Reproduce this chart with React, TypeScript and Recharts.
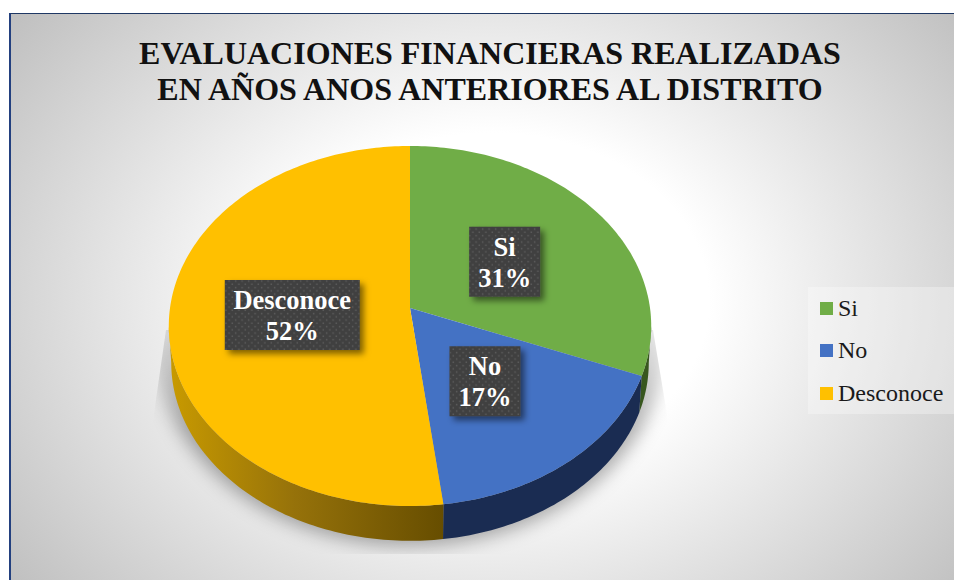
import { Legend, Pie, PieChart, Cell } from "recharts";

const categories = ["Si", "No", "Desconoce"];
const shares = [31, 17, 52];
const titleLines = ["EVALUACIONES FINANCIERAS REALIZADAS", "EN AÑOS ANOS ANTERIORES AL DISTRITO"];
const topColors = ["#70ad47", "#4472c4", "#ffc000"];
const sideColors = ["#38571f", "#1a2c52", "url(#yellowSide)"];

const rows = categories.map((name, i) => ({ name, value: shares[i] }));

const SERIF = '"Liberation Serif", "Times New Roman", serif';

// tilt of the disc: the plane is seen in perspective, so its centre sits above the ellipse centre
const TILT = 0.7425;
const PERSPECTIVE = 0.1;
const DEPTH = 37;
const FRONT_START = 95.7;
const FRONT_END = 264.3;

const project = (cx: number, cy: number, radius: number, clock: number, r = 1) => {
  const u = Math.sin((clock * Math.PI) / 180) * r;
  const v = -Math.cos((clock * Math.PI) / 180) * r;
  const w = 1 - PERSPECTIVE * v;
  return [cx + (radius * u) / w, cy + (radius * TILT * v) / w];
};

const arc = (cx: number, cy: number, radius: number, from: number, to: number, r = 1, dy = 0) => {
  const points: string[] = [];
  const steps = Math.max(2, Math.ceil(Math.abs(to - from)));
  for (let i = 0; i <= steps; i++) {
    const [x, y] = project(cx, cy, radius, from + ((to - from) * i) / steps, r);
    points.push(`${x.toFixed(2)} ${(y + dy).toFixed(2)}`);
  }
  return points;
};

const TopSector = (props: any) => {
  const { cx, cy, outerRadius, startAngle, endAngle, fill } = props;
  const d = `M${cx} ${cy} L${arc(cx, cy, outerRadius, 90 - startAngle, 90 - endAngle).join(" L")} Z`;
  return <path d={d} fill={fill} />;
};

const SideSector = (props: any) => {
  const { cx, cy, outerRadius, startAngle, endAngle, fill } = props;
  const from = Math.max(90 - startAngle, FRONT_START);
  const to = Math.min(90 - endAngle, FRONT_END);
  if (to <= from) return <g />;
  const upper = arc(cx, cy, outerRadius, from, to);
  const lower = arc(cx, cy, outerRadius, to, from, 0.99, DEPTH);
  return <path d={`M${upper.concat(lower).join(" L")} Z`} fill={fill} />;
};

const renderLabel = (props: any) => {
  const { cx, cy, outerRadius, midAngle, name, percent } = props;
  const [x, py] = project(cx, cy, outerRadius, 90 - midAngle, 0.49);
  const y = py + 1.5;
  const w = name.length > 4 ? 135 : 71;
  const h = 70;
  return (
    <g>
      <rect x={x - w / 2} y={y - h / 2} width={w} height={h} fill="#404040" filter="url(#boxShadow)" />
      <rect x={x - w / 2} y={y - h / 2} width={w} height={h} fill="url(#dots)" />
      <text
        x={x}
        y={y - 6}
        textAnchor="middle"
        fontFamily={SERIF}
        fontWeight="bold"
        fontSize={26.5}
        fill="#ffffff"
      >
        {name}
      </text>
      <text
        x={x}
        y={y + 25}
        textAnchor="middle"
        fontFamily={SERIF}
        fontWeight="bold"
        fontSize={26.5}
        fill="#ffffff"
      >
        {`${Math.round(percent * 100)}%`}
      </text>
    </g>
  );
};

const LegendBox = () => (
  <div style={{ width: 146, height: 127, background: "rgba(255,255,255,0.3)", position: "relative" }}>
    {categories.map((name, i) => (
      <div
        key={name}
        style={{
          position: "absolute",
          left: 12,
          top: 21 + i * 42.5 - 13,
          height: 26,
          display: "flex",
          alignItems: "center",
          fontFamily: SERIF,
          fontSize: 24,
          color: "#1a1a1a",
          whiteSpace: "nowrap",
        }}
      >
        <span style={{ width: 13, height: 13, background: topColors[i], marginRight: 5 }} />
        {name}
      </div>
    ))}
  </div>
);

export default function App() {
  return (
    <div style={{ position: "absolute", left: 0, top: 0, width: 954, height: 580, overflow: "hidden", background: "#fff" }}>
      <div
        style={{
          position: "absolute",
          left: 9,
          top: 13,
          width: 1000,
          height: 620,
          boxSizing: "border-box",
          borderLeft: "2.5px solid #23407f",
          borderTop: "1.5px solid #1f3864",
          background: "radial-gradient(ellipse 620px 480px at 481px 287px, #ffffff 35%, #bdbdbd 100%)",
        }}
      />
      <svg width={954} height={580} style={{ position: "absolute", left: 0, top: 0 }}>
        <defs>
          <filter id="pieShadow" filterUnits="userSpaceOnUse" x={100} y={100} width={720} height={500}>
            <feGaussianBlur stdDeviation={9} />
          </filter>
          <clipPath id="shadowClip">
            <polygon points="166,330 653,330 668,420 668,554 153,554 153,420" />
          </clipPath>
          <linearGradient id="shadowFade" gradientUnits="userSpaceOnUse" x1={0} y1={330} x2={0} y2={430}>
            <stop offset="0" stopColor="#555" />
            <stop offset="1" stopColor="#fff" />
          </linearGradient>
          <mask id="shadowMask" maskUnits="userSpaceOnUse" x={0} y={0} width={954} height={580}>
            <rect x={0} y={0} width={954} height={580} fill="url(#shadowFade)" />
          </mask>
        </defs>
        <g clipPath="url(#shadowClip)" mask="url(#shadowMask)">
          <ellipse cx={410} cy={345} rx={254} ry={201} fill="#000" fillOpacity={0.32} filter="url(#pieShadow)" />
        </g>
      </svg>
      <div style={{ position: "absolute", left: 0, top: 0 }}>
        <PieChart width={954} height={580} margin={{ top: 0, right: 0, bottom: 0, left: 0 }}>
          <defs>
            <linearGradient id="yellowSide" gradientUnits="userSpaceOnUse" x1={170} y1={0} x2={445} y2={0}>
              <stop offset="0" stopColor="#c89a00" />
              <stop offset="0.45" stopColor="#96720a" />
              <stop offset="1" stopColor="#664d00" />
            </linearGradient>
            <pattern id="dots" width={6.5} height={6.5} patternUnits="userSpaceOnUse">
              <circle cx={1.6} cy={1.6} r={0.8} fill="#5c5c5c" />
              <circle cx={4.85} cy={4.85} r={0.8} fill="#5c5c5c" />
            </pattern>
            <filter id="boxShadow" x="-20%" y="-20%" width="150%" height="150%">
              <feDropShadow dx={4} dy={4} stdDeviation={3} floodColor="#000" floodOpacity={0.5} />
            </filter>
          </defs>
          <text textAnchor="middle" fontFamily={SERIF} fontWeight="bold" fontSize={32} fill="#111">
            <tspan x={490} y={64}>
              {titleLines[0]}
            </tspan>
            <tspan x={490} y={100}>
              {titleLines[1]}
            </tspan>
          </text>
          <Pie
            data={rows}
            dataKey="value"
            nameKey="name"
            cx={410}
            cy={308}
            outerRadius={240}
            startAngle={90}
            endAngle={-270}
            stroke="none"
            shape={SideSector}
            legendType="none"
            isAnimationActive={false}
          >
            {rows.map((row, i) => (
              <Cell key={row.name} fill={sideColors[i]} />
            ))}
          </Pie>
          <Pie
            data={rows}
            dataKey="value"
            nameKey="name"
            cx={410}
            cy={308}
            outerRadius={240}
            startAngle={90}
            endAngle={-270}
            stroke="none"
            shape={TopSector}
            label={renderLabel}
            labelLine={false}
            isAnimationActive={false}
          >
            {rows.map((row, i) => (
              <Cell key={row.name} fill={topColors[i]} />
            ))}
          </Pie>
          <Legend
            content={<LegendBox />}
            wrapperStyle={{ position: "absolute", left: 808, top: 287, width: 146, height: 127 }}
          />
        </PieChart>
      </div>
    </div>
  );
}
